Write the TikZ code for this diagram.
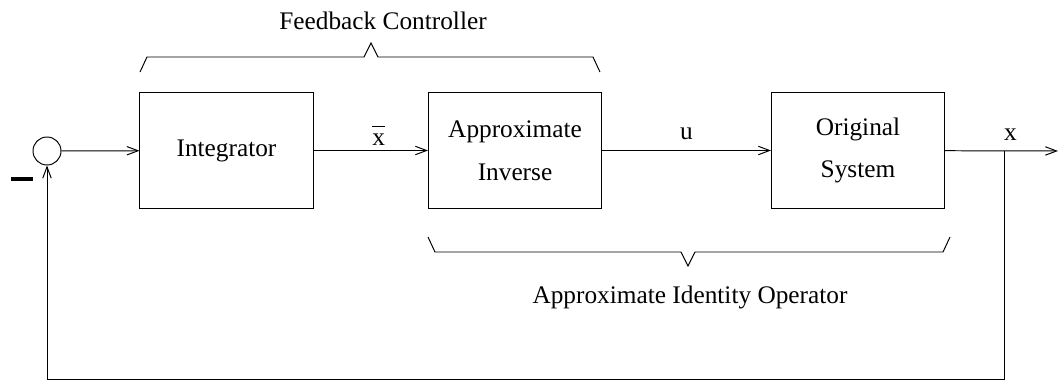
\documentclass[tikz,border=0pt]{standalone}
\usepackage{fontspec}
\setmainfont{Liberation Serif}
\usetikzlibrary{arrows.meta}

\begin{document}
\begin{tikzpicture}[x=0.025cm,y=-0.025cm,line width=0.7pt,
    >={Straight Barb[length=8pt,width=6pt]},
    block/.style={draw,minimum width=4.325cm,minimum height=2.875cm,
      align=center,font=\fontsize{18}{30.5}\selectfont},
    lbl/.style={font=\fontsize{18}{22}\selectfont}]
  \useasboundingbox (0,0) rectangle (1060,381);
  % blocks
  \node[draw,circle,minimum size=0.7cm,inner sep=0pt] (sum) at (47,151) {};
  \node[fill,minimum width=0.55cm,minimum height=0.09cm,inner sep=0pt] (minus) at (22,179) {};
  \node[block] (int) at (226.5,150.5) {Integrator};
  \node[block] (inv) at (515,150.5) {Approximate\\Inverse};
  \node[block] (sys) at (858,150.5) {Original\\System};
  \coordinate (out) at (1058,151);
  \coordinate (tap) at (1004,151);
  \coordinate (bot) at (1004,379.5);
  % signals
  \draw[->] (sum) -- (int);
  \draw[->] (int) -- node[lbl,above,pos=0.57] {$\overline{\vphantom{A}\mbox{x}}$} (inv);
  \draw[->] (inv) -- node[lbl,above=4pt] {u} (sys);
  \draw[->] (sys) -- node[lbl,above=4pt,pos=0.58] {x} (out);
  \draw[->] (tap) -- (bot) -| (sum.south);
  % braces
  \draw (140,72) -- (147,57) -- (364,57) -- (371,43) -- (378,57) -- (593,57) -- (600,72);
  \node[lbl] (ctrl) at (383,21) {Feedback Controller};
  \draw (428,237) -- (435,252) -- (681,252) -- (688,266) -- (695,252) -- (943,252) -- (950,237);
  \node[lbl] (ident) at (690,297) {Approximate Identity Operator};
\end{tikzpicture}
\end{document}
